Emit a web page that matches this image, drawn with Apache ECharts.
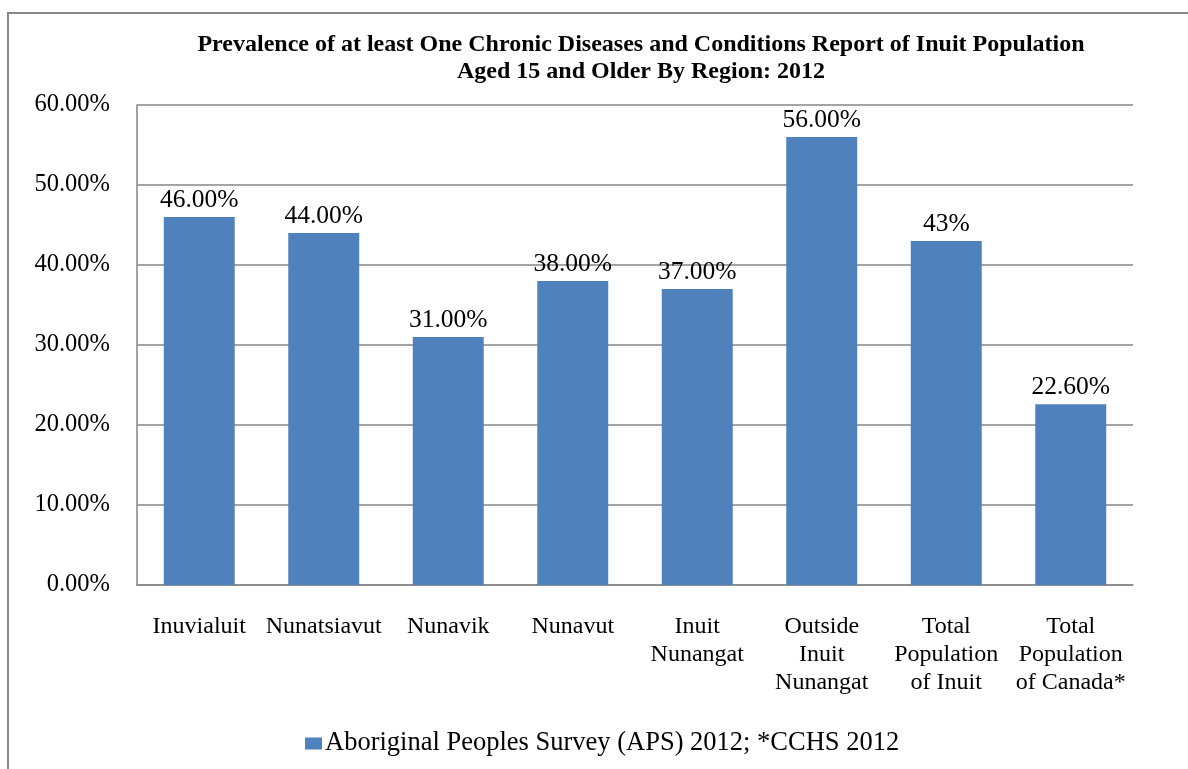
<!DOCTYPE html>
<html>
<head>
<meta charset="utf-8">
<script src="https://cdn.jsdelivr.net/npm/echarts@6/dist/echarts.min.js"></script>
<style>
  html, body { margin: 0; padding: 0; background: #fff; }
  #chart { width: 1188px; height: 769px; }
</style>
</head>
<body>
<div id="chart"></div>
<script>
// Regions and prevalence (%) of at least one chronic condition, age 15+
const categories = [
  'Inuvialuit', 'Nunatsiavut', 'Nunavik', 'Nunavut',
  'Inuit\nNunangat', 'Outside\nInuit\nNunangat',
  'Total\nPopulation\nof Inuit', 'Total\nPopulation\nof Canada*'
];
const prevalence = [46, 44, 31, 38, 37, 56, 43, 22.6];
// Decimal places shown on each bar label
const labelDecimals = [2, 2, 2, 2, 2, 2, 0, 2];
const yTicks = { min: 0, max: 60, step: 10 };
const seriesName = 'Aboriginal Peoples Survey (APS) 2012; *CCHS 2012';
const titleText = 'Prevalence of at least One Chronic Diseases and Conditions Report of Inuit Population\nAged 15 and Older By Region: 2012';

const serif = '"Liberation Serif", "Times New Roman", serif';
const chart = echarts.init(document.getElementById('chart'));

chart.setOption({
  animation: false,
  backgroundColor: '#fff',
  graphic: [{
    type: 'rect',
    shape: { x: 8, y: 13, width: 1300, height: 900 },
    style: { fill: 'none', stroke: '#878787', lineWidth: 2 },
    silent: true
  }],
  title: {
    text: titleText,
    left: 636,
    textAlign: 'center',
    top: 26,
    textStyle: {
      fontFamily: serif, fontWeight: 'bold', fontSize: 24,
      lineHeight: 27, color: '#000'
    }
  },
  legend: {
    bottom: 7,
    left: 300,
    itemWidth: 17,
    itemHeight: 12,
    itemGap: 10,
    icon: 'rect',
    textStyle: { fontFamily: serif, fontSize: 26.5, color: '#000', padding: [0, 0, 0, -2] },
    data: [seriesName]
  },
  grid: { left: 137, right: 55, top: 105, bottom: 184 },
  xAxis: {
    type: 'category',
    data: categories,
    axisLine: { show: true, lineStyle: { color: '#868686', width: 1.5 } },
    axisTick: { show: false },
    axisLabel: {
      interval: 0, margin: 28, color: '#000',
      fontFamily: serif, fontSize: 24, lineHeight: 28, align: 'center',
      verticalAlign: 'top'
    }
  },
  yAxis: {
    type: 'value',
    min: yTicks.min, max: yTicks.max, interval: yTicks.step,
    axisLine: { show: true, lineStyle: { color: '#868686', width: 1.5 } },
    axisTick: { show: false },
    splitLine: { lineStyle: { color: '#868686', width: 1.5 } },
    axisLabel: {
      margin: 27, color: '#000', fontFamily: serif, fontSize: 24.5,
      formatter: v => v.toFixed(2) + '%'
    }
  },
  series: [{
    name: seriesName,
    type: 'bar',
    data: prevalence,
    barCategoryGap: '43%',
    itemStyle: { color: '#4F81BD' },
    label: {
      show: true, position: 'top', distance: 4,
      color: '#000', fontFamily: serif, fontSize: 25.5,
      formatter: p => p.value.toFixed(labelDecimals[p.dataIndex]) + '%'
    }
  }]
});
</script>
</body>
</html>
